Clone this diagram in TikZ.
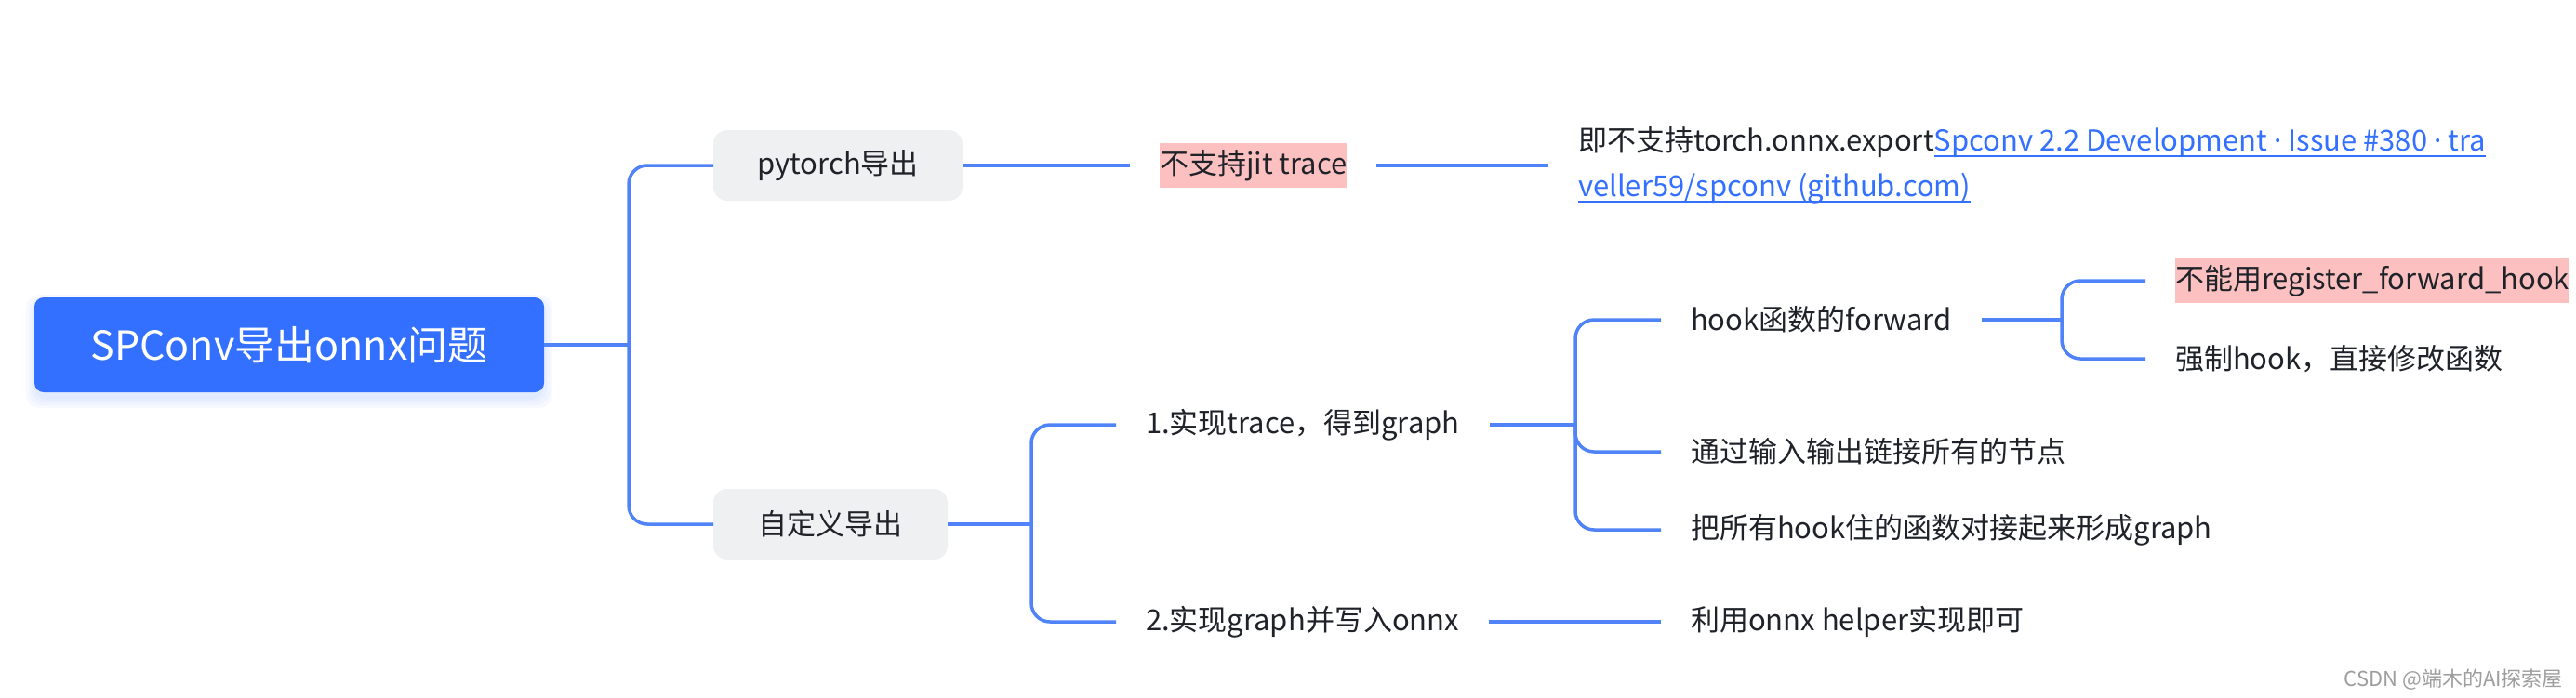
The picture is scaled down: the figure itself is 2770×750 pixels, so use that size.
\documentclass[tikz,border=0pt]{standalone}
\usepackage{fontspec}
\setmainfont{Noto Sans CJK SC}
\newfontfamily\dotf{Noto Sans}
\definecolor{rootc}{HTML}{3370FF}
\definecolor{connc}{HTML}{5083F7}
\definecolor{boxc}{HTML}{EFF0F1}
\definecolor{pinkc}{HTML}{FBC0BF}
\definecolor{txtc}{HTML}{1F2329}
\definecolor{linkc}{HTML}{3370FF}
\newcommand{\lnk}[1]{\setbox0\hbox{\color{linkc}#1}\rlap{\color{linkc}\rule[-6pt]{\wd0}{1.8pt}}\box0}
\newcommand{\mdot}{{\dotf ·}}
\begin{document}
\begin{tikzpicture}[x=1pt,y=-1pt,
  conn/.style={draw=connc, line width=3.5pt},
  branch/.style={conn, rounded corners=20pt},
  txt/.style={inner xsep=0pt, inner ysep=0pt, outer xsep=32pt, outer ysep=0pt,
    text=txtc, font=\fontsize{31}{49}\selectfont, anchor=west},
  pinknode/.style={txt, fill=pinkc, minimum height=48pt},
  boxnode/.style={fill=boxc, rounded corners=15pt, minimum height=76pt,
    inner xsep=0pt, outer sep=0pt, text=txtc, font=\fontsize{31}{38}\selectfont},
  rootnode/.style={fill=rootc, rounded corners=10pt, minimum width=548pt,
    minimum height=102pt, outer sep=0pt, text=white, font=\fontsize{43}{50}\selectfont},
  wm/.style={text=black!38, font=\fontsize{22}{24}\selectfont, inner sep=0pt}
]
\useasboundingbox[fill=white] (0,0) rectangle (2770,750);

% soft shadow of the root
\foreach \g in {0,3,6,9}
  \fill[rootc, opacity=0.035, rounded corners=14pt]
    (37-\g, 326-\g) rectangle (585+\g, 430+\g);

\node[rootnode] (root) at (311,371) {SPConv导出onnx问题};

\node[boxnode, minimum width=268pt] (pyt) at (901,178) {pytorch导出};
\node[boxnode, minimum width=252pt] (cust) at (893,564) {自定义导出};

\node[pinknode] (nojit) at (1215,178) {不支持jit trace};
\node[txt, align=left] (link) at (1665,178)
  {即不支持torch.onnx.export\lnk{Spconv 2.2 Development \mdot{} Issue \#380 \mdot{} tra}\\
   \lnk{veller59/spconv (github.com)}};

\node[txt] (tr1) at (1200,457) {1.实现trace，得到graph};
\node[txt] (g2) at (1200,669) {2.实现graph并写入onnx};

\node[txt] (hook) at (1786,344) {hook函数的forward};
\node[txt] (tong) at (1786,486) {通过输入输出链接所有的节点};
\node[txt] (ba) at (1786,570) {把所有hook住的函数对接起来形成graph};
\node[txt] (li) at (1786,669) {利用onnx helper实现即可};

\node[pinknode] (reg) at (2307,302) {不能用register\_forward\_hook};
\node[txt] (force) at (2307,386) {强制hook，直接修改函数};

\node[wm, anchor=east] (mark) at (2756,731) {CSDN @端木的AI探索屋};

% junctions
\coordinate (j1) at (676,371);
\coordinate (j2) at (1109,564);
\coordinate (j3) at (1694,457);
\coordinate (j4) at (2217,344);

\draw[conn] (root.east) -- (j1);
\draw[branch] (j1) |- (pyt.west);
\draw[branch] (j1) |- (cust.west);

\draw[conn] (pyt.east) -- (nojit.west);
\draw[conn] (nojit.east) -- (link.west);

\draw[conn] (cust.east) -- (j2);
\draw[branch] (j2) |- (tr1.west);
\draw[branch] (j2) |- (g2.west);

\draw[conn] (tr1.east) -- (j3);
\draw[branch] (j3) |- (hook.west);
\draw[branch] (j3) |- (tong.west);
\draw[branch] (j3) |- (ba.west);

\draw[conn] (g2.east) -- (li.west);

\draw[conn] (hook.east) -- (j4);
\draw[branch] (j4) |- (reg.west);
\draw[branch] (j4) |- (force.west);
\end{tikzpicture}
\end{document}
